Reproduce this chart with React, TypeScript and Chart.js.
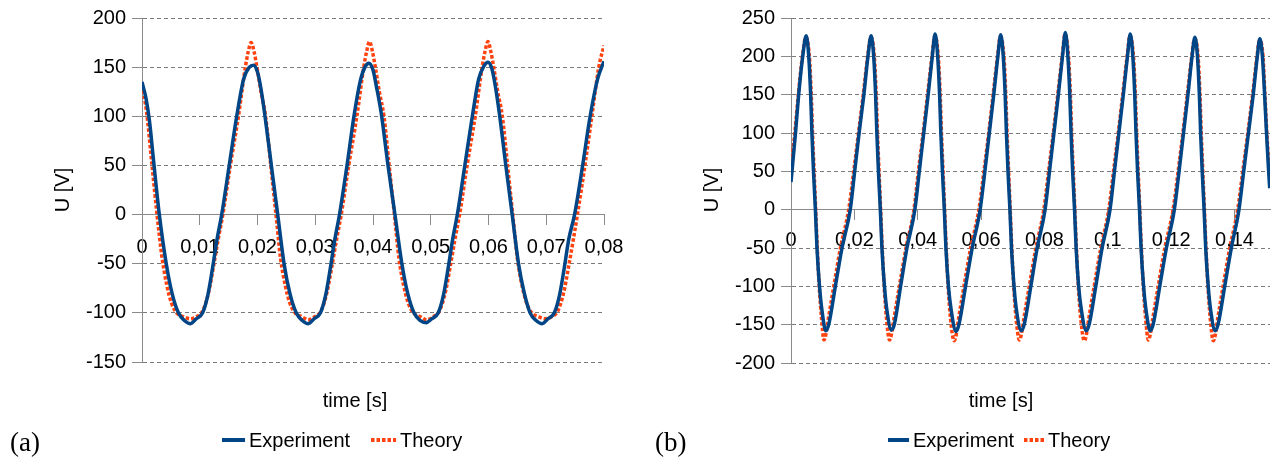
import React, { useEffect, useRef } from 'react';
import { Chart, registerables } from 'chart.js';

Chart.register(...registerables);

// ---------------- (a) left chart ----------------
const leftExpT = [
  0, 0.0007, 0.0013, 0.002, 0.003, 0.0042, 0.0052, 0.0063, 0.0074, 0.0084, 0.0094, 0.0105, 0.0114, 0.0122, 0.013, 0.0138, 0.0151, 0.0164, 0.0176, 0.0186, 0.0193, 0.02, 0.0206, 0.0213, 0.0224, 0.0235,
  0.0246, 0.0256, 0.0267, 0.0278, 0.0288, 0.0298, 0.0309, 0.0318, 0.0326, 0.0334, 0.0342, 0.0355, 0.0367, 0.0378, 0.0386, 0.0393, 0.04, 0.0406, 0.0414, 0.0426, 0.0438,
  0.045, 0.046, 0.0471, 0.0482, 0.0492, 0.0502, 0.0513, 0.0522, 0.053, 0.0538, 0.0546, 0.0559, 0.0572, 0.0583, 0.0592, 0.0599, 0.0606, 0.0612, 0.0619, 0.063, 0.0641,
  0.0652, 0.0662, 0.0672, 0.0683, 0.0693, 0.0703, 0.0714, 0.0723, 0.0731, 0.0739, 0.0749, 0.0763, 0.0776, 0.0789, 0.08,
];
const leftExpV = [
  135, 118, 95, 55, 0, -50, -80, -100, -108, -111, -106, -100, -82, -55, -25, 0, 50, 100, 138, 150, 152, 145, 128, 100, 50, 0,
  -50, -80, -100, -108, -111, -106, -100, -82, -55, -25, 0, 50, 100, 136, 150, 154, 147, 130, 104, 50, 0,
  -50, -80, -100, -108, -110, -106, -100, -82, -55, -25, 0, 50, 100, 138, 151, 155, 148, 130, 102, 50, 0,
  -50, -80, -100, -108, -111, -106, -100, -82, -55, -25, 0, 50, 100, 138, 156,
];
const leftThT = [
  0, 0.0008, 0.0017, 0.0026, 0.0035, 0.0043, 0.0051, 0.006, 0.0072, 0.0083, 0.0094, 0.0105, 0.0115, 0.0124, 0.0132, 0.014, 0.0153, 0.0167, 0.0179, 0.0184, 0.0189, 0.0194, 0.0199, 0.0206, 0.0214, 0.0223, 0.0232,
  0.024, 0.0248, 0.0256, 0.0265, 0.0277, 0.0288, 0.0299, 0.031, 0.032, 0.0329, 0.0337, 0.0345, 0.0358, 0.0372, 0.0384, 0.0389, 0.0394, 0.0399, 0.0404, 0.0411, 0.0419, 0.0428, 0.0437,
  0.0445, 0.0453, 0.0461, 0.047, 0.0482, 0.0493, 0.0504, 0.0515, 0.0525, 0.0534, 0.0542, 0.055, 0.0563, 0.0577, 0.0589, 0.0594, 0.0599, 0.0604, 0.0609, 0.0616, 0.0624, 0.0633, 0.0642,
  0.065, 0.0658, 0.0666, 0.0675, 0.0687, 0.0698, 0.0709, 0.072, 0.073, 0.0739, 0.0747, 0.0754, 0.0767, 0.0779, 0.0791, 0.08,
];
const leftThV = [
  132, 104, 52, 0, -45, -72, -90, -100, -104, -106, -104, -98, -80, -52, -25, 0, 50, 100, 150, 166, 175, 166, 150, 125, 100, 50, 0,
  -45, -72, -90, -100, -104, -107, -104, -98, -80, -52, -25, 0, 50, 100, 150, 166, 176, 166, 150, 125, 100, 50, 0,
  -45, -72, -90, -100, -104, -107, -104, -98, -80, -52, -25, 0, 50, 100, 150, 166, 176, 166, 150, 125, 100, 50, 0,
  -45, -72, -90, -100, -104, -106, -104, -98, -80, -52, -25, 0, 50, 100, 150, 172,
];
const leftXTicks = [0, 0.01, 0.02, 0.03, 0.04, 0.05, 0.06, 0.07, 0.08];
const leftXLabels = ['0', '0,01', '0,02', '0,03', '0,04', '0,05', '0,06', '0,07', '0,08'];
const leftYTicks = [-150, -100, -50, 0, 50, 100, 150, 200];
const leftYLabels = ['-150', '-100', '-50', '0', '50', '100', '150', '200'];

// ---------------- (b) right chart ----------------
const rightExpT = [
  0, 0.0014, 0.0024, 0.0037, 0.0048,
  0.0056, 0.0062, 0.0066, 0.0071, 0.0077, 0.0082, 0.009, 0.0098, 0.011,
  0.0119, 0.014, 0.0161, 0.0187, 0.0201, 0.0215, 0.023, 0.0243, 0.0253,
  0.0261, 0.0267, 0.0271, 0.0276, 0.0282, 0.0287, 0.0295, 0.0303, 0.0317,
  0.0326, 0.0346, 0.0366, 0.0391, 0.0405, 0.0419, 0.0433, 0.0446, 0.0455,
  0.0463, 0.0469, 0.0473, 0.0478, 0.0484, 0.0489, 0.0497, 0.0506, 0.0521,
  0.053, 0.0551, 0.0572, 0.0597, 0.0612, 0.0626, 0.064, 0.0653, 0.0662,
  0.067, 0.0676, 0.068, 0.0685, 0.0691, 0.0696, 0.0704, 0.0712, 0.0727,
  0.0736, 0.0757, 0.0777, 0.0802, 0.0816, 0.083, 0.0844, 0.0857, 0.0866,
  0.0874, 0.088, 0.0884, 0.0889, 0.0895, 0.09, 0.0908, 0.0917, 0.0932,
  0.0941, 0.0962, 0.0982, 0.1007, 0.1021, 0.1035, 0.1049, 0.1062, 0.1071,
  0.1079, 0.1085, 0.1089, 0.1094, 0.11, 0.1105, 0.1113, 0.1121, 0.1134,
  0.1143, 0.1164, 0.1185, 0.121, 0.1225, 0.1239, 0.1253, 0.1266, 0.1275,
  0.1283, 0.1289, 0.1293, 0.1298, 0.1304, 0.1309, 0.1317, 0.1325, 0.1339,
  0.1348, 0.1369, 0.139, 0.1414, 0.1429, 0.1444, 0.1459, 0.1472, 0.148,
  0.1488, 0.1495, 0.1501, 0.1507, 0.1511,
];
const rightExpV = [
  36, 99, 149, 200, 227,
  200, 150, 100, 50, 0, -50, -100, -132, -158,
  -150, -100, -50, 0, 50, 100, 150, 200, 227,
  200, 150, 100, 50, 0, -50, -100, -132, -157,
  -150, -100, -50, 0, 50, 100, 150, 200, 229,
  200, 150, 100, 50, 0, -50, -100, -132, -159,
  -150, -100, -50, 0, 50, 100, 150, 200, 228,
  200, 150, 100, 50, 0, -50, -100, -132, -158,
  -150, -100, -50, 0, 50, 100, 150, 200, 231,
  200, 150, 100, 50, 0, -50, -100, -132, -158,
  -150, -100, -50, 0, 50, 100, 150, 200, 229,
  200, 150, 100, 50, 0, -50, -100, -132, -158,
  -150, -100, -50, 0, 50, 100, 150, 200, 225,
  200, 150, 100, 50, 0, -50, -100, -132, -158,
  -150, -100, -50, 0, 50, 100, 150, 200, 223,
  200, 150, 100, 55, 28,
];
const rightThT = [
  0, 0.0012, 0.0023, 0.0036, 0.0047,
  0.0058, 0.0064, 0.0068, 0.0073, 0.0078, 0.0083, 0.0089, 0.0096, 0.0104,
  0.011, 0.0118, 0.0135, 0.0156, 0.0182, 0.0198, 0.0213, 0.0228, 0.0242, 0.0252,
  0.0263, 0.0269, 0.0273, 0.0278, 0.0283, 0.0288, 0.0294, 0.0301, 0.0311,
  0.0317, 0.0325, 0.0342, 0.0363, 0.0388, 0.0402, 0.0417, 0.0431, 0.0445, 0.0454,
  0.0465, 0.0471, 0.0475, 0.048, 0.0485, 0.049, 0.0496, 0.0503, 0.0515,
  0.0521, 0.0529, 0.0546, 0.0567, 0.0593, 0.0609, 0.0624, 0.0638, 0.0652, 0.0661,
  0.0672, 0.0678, 0.0682, 0.0687, 0.0692, 0.0697, 0.0703, 0.071, 0.0721,
  0.0727, 0.0735, 0.0752, 0.0773, 0.0798, 0.0813, 0.0828, 0.0842, 0.0856, 0.0865,
  0.0876, 0.0882, 0.0886, 0.0891, 0.0896, 0.0901, 0.0907, 0.0914, 0.0926,
  0.0932, 0.094, 0.0957, 0.0978, 0.1003, 0.1018, 0.1033, 0.1047, 0.1061, 0.107,
  0.1081, 0.1087, 0.1091, 0.1096, 0.1101, 0.1106, 0.1112, 0.1119, 0.1128,
  0.1134, 0.1142, 0.1159, 0.118, 0.1206, 0.1222, 0.1237, 0.1251, 0.1265, 0.1274,
  0.1285, 0.1291, 0.1295, 0.13, 0.1305, 0.131, 0.1316, 0.1323, 0.1333,
  0.1339, 0.1347, 0.1364, 0.1385, 0.141, 0.1426, 0.1442, 0.1457, 0.1471, 0.1479,
  0.149, 0.1496, 0.1502, 0.1508, 0.1512,
];
const rightThV = [
  54, 100, 150, 200, 225,
  200, 150, 100, 50, 0, -50, -100, -140, -170,
  -163, -142, -100, -50, 0, 50, 100, 150, 200, 225,
  200, 150, 100, 50, 0, -50, -100, -140, -170,
  -163, -142, -100, -50, 0, 50, 100, 150, 200, 227,
  200, 150, 100, 50, 0, -50, -100, -140, -171,
  -164, -142, -100, -50, 0, 50, 100, 150, 200, 226,
  200, 150, 100, 50, 0, -50, -100, -140, -170,
  -163, -142, -100, -50, 0, 50, 100, 150, 200, 229,
  200, 150, 100, 50, 0, -50, -100, -140, -171,
  -164, -142, -100, -50, 0, 50, 100, 150, 200, 227,
  200, 150, 100, 50, 0, -50, -100, -140, -170,
  -163, -142, -100, -50, 0, 50, 100, 150, 200, 223,
  200, 150, 100, 50, 0, -50, -100, -140, -171,
  -164, -142, -100, -50, 0, 50, 100, 150, 200, 221,
  200, 150, 100, 62, 45,
];
const rightXTicks = [0, 0.02, 0.04, 0.06, 0.08, 0.1, 0.12, 0.14];
const rightXLabels = ['0', '0,02', '0,04', '0,06', '0,08', '0,1', '0,12', '0,14'];
const rightYTicks = [-200, -150, -100, -50, 0, 50, 100, 150, 200, 250];
const rightYLabels = ['-200', '-150', '-100', '-50', '0', '50', '100', '150', '200', '250'];

const seriesNames = ['Experiment', 'Theory'];
const xTitle = 'time [s]';
const yTitle = 'U [V]';

const FAMILY = "'Liberation Sans', Arial, sans-serif";
const BLUE = '#004586';
const RED = '#ff420e';
const AXIS = '#8a8a8a';
const GRID = '#7a7a7a';

const decoPlugin = {
  id: 'deco',
  afterDraw(chart: any, _args: any, opts: any) {
    const ctx = chart.ctx;
    ctx.save();
    ctx.fillStyle = '#000';
    ctx.font = `20px ${FAMILY}`;
    ctx.save();
    ctx.translate(opts.yTitleX, opts.yTitleY);
    ctx.rotate(-Math.PI / 2);
    ctx.textAlign = 'center';
    ctx.textBaseline = 'middle';
    ctx.fillText(yTitle, 0, 0);
    ctx.restore();
    ctx.textAlign = 'center';
    ctx.textBaseline = 'middle';
    ctx.fillText(xTitle, opts.xTitleX, opts.xTitleY);
    const ds = chart.data.datasets;
    opts.legend.forEach((item: any, i: number) => {
      const d = ds[i];
      ctx.save();
      ctx.strokeStyle = d.borderColor;
      ctx.lineWidth = 4;
      ctx.setLineDash(d.borderDash || []);
      ctx.beginPath();
      ctx.moveTo(item.x1, opts.legendY);
      ctx.lineTo(item.x2, opts.legendY);
      ctx.stroke();
      ctx.restore();
      ctx.textAlign = 'left';
      ctx.textBaseline = 'middle';
      ctx.fillText(d.label, item.tx, opts.legendY + 1);
    });
    ctx.font = "27px 'Liberation Serif', 'Times New Roman', serif";
    ctx.textAlign = 'left';
    ctx.textBaseline = 'alphabetic';
    ctx.fillText(opts.tag, opts.tagX, opts.tagY);
    ctx.restore();
  },
};

function buildConfig(p: any): any {
  const pts = (t: number[], v: number[]) => t.map((x, i) => ({ x, y: v[i] }));
  return {
    type: 'scatter',
    data: {
      datasets: [
        {
          label: seriesNames[0],
          data: pts(p.expT, p.expV),
          borderColor: BLUE,
          backgroundColor: BLUE,
          borderWidth: 3.5,
          showLine: true,
          pointRadius: 0,
          cubicInterpolationMode: 'monotone',
          fill: false,
        },
        {
          label: seriesNames[1],
          data: pts(p.thT, p.thV),
          borderColor: RED,
          backgroundColor: RED,
          borderWidth: 3.5,
          borderDash: [3.5, 2],
          showLine: true,
          pointRadius: 0,
          cubicInterpolationMode: 'monotone',
          fill: false,
        },
      ],
    },
    options: {
      responsive: false,
      animation: false,
      devicePixelRatio: 1,
      layout: { padding: p.padding },
      events: [],
      plugins: {
        legend: { display: false },
        tooltip: { enabled: false },
        deco: p.deco,
      },
      scales: {
        x: {
          type: 'linear',
          position: { y: 0 },
          min: 0,
          max: p.xMax,
          afterBuildTicks: (s: any) => {
            s.ticks = p.xTicks.map((v: number) => ({ value: v }));
          },
          ticks: {
            callback: (_v: any, i: number) => p.xLabels[i],
            font: { size: 20, family: FAMILY },
            color: '#000',
            padding: p.xTickPad,
            maxRotation: 0,
            autoSkip: false,
          },
          grid: { drawOnChartArea: false, drawTicks: true, tickLength: 10, color: AXIS, tickColor: AXIS },
          border: { display: true, color: AXIS, width: 1 },
        },
        y: {
          type: 'linear',
          min: p.yTicks[0],
          max: p.yTicks[p.yTicks.length - 1],
          afterBuildTicks: (s: any) => {
            s.ticks = p.yTicks.map((v: number) => ({ value: v }));
          },
          afterFit: (s: any) => {
            s.width = p.yWidth;
          },
          ticks: {
            callback: (_v: any, i: number) => p.yLabels[i],
            font: { size: 20, family: FAMILY },
            color: '#000',
            padding: 6,
            autoSkip: false,
          },
          grid: { color: GRID, lineWidth: 1, tickLength: 10, tickColor: AXIS },
          border: { display: true, color: AXIS, width: 1, dash: [4, 3] },
        },
      },
    },
    plugins: [decoPlugin],
  };
}

const leftPanel = {
  expT: leftExpT, expV: leftExpV, thT: leftThT, thV: leftThV,
  xTicks: leftXTicks, xLabels: leftXLabels, yTicks: leftYTicks, yLabels: leftYLabels,
  xMax: 0.08, yWidth: 142, xTickPad: 11,
  padding: { left: 0, top: 16, right: 31, bottom: 100 },
  deco: {
    yTitleX: 63, yTitleY: 190, xTitleX: 355, xTitleY: 401, legendY: 440,
    legend: [{ x1: 222, x2: 245, tx: 249 }, { x1: 371, x2: 396, tx: 400 }],
    tag: '(a)', tagX: 10, tagY: 451,
  },
};

const rightPanel = {
  expT: rightExpT, expV: rightExpV, thT: rightThT, thV: rightThV,
  xTicks: rightXTicks, xLabels: rightXLabels, yTicks: rightYTicks, yLabels: rightYLabels,
  xMax: 0.1512, yWidth: 156, xTickPad: 9,
  padding: { left: 0, top: 16, right: 1, bottom: 99 },
  deco: {
    yTitleX: 77, yTitleY: 190, xTitleX: 366, xTitleY: 401, legendY: 440,
    legend: [{ x1: 253, x2: 274, tx: 278 }, { x1: 389, x2: 410, tx: 413 }],
    tag: '(b)', tagX: 20, tagY: 451,
  },
};

function Panel({ cfg, left, width }: { cfg: any; left: number; width: number }) {
  const ref = useRef<HTMLCanvasElement>(null);
  useEffect(() => {
    const chart = new Chart(ref.current as HTMLCanvasElement, buildConfig(cfg));
    return () => chart.destroy();
  }, [cfg]);
  return (
    <canvas
      ref={ref}
      width={width}
      height={462}
      style={{ position: 'absolute', left, top: 0, width, height: 462 }}
    />
  );
}

export default function App() {
  return (
    <div style={{ position: 'absolute', left: 0, top: 0, width: 1271, height: 462, background: '#fff', overflow: 'hidden' }}>
      <Panel cfg={leftPanel} left={0} width={635} />
      <Panel cfg={rightPanel} left={635} width={636} />
    </div>
  );
}
